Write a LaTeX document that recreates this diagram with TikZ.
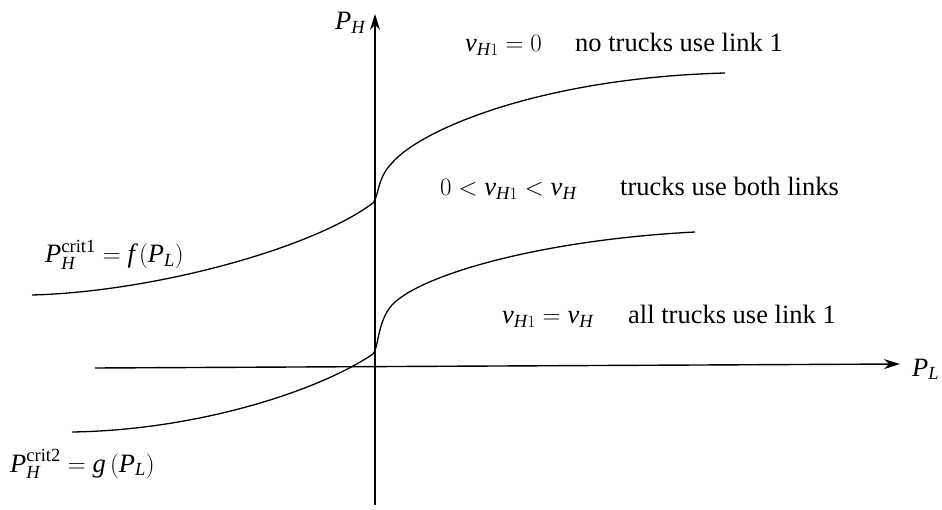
\documentclass[tikz,border=0pt]{standalone}
\usepackage{amsmath}
\usepackage{fontspec}
\setmainfont{Liberation Serif}
\usetikzlibrary{arrows.meta}
\newcommand{\mi}[1]{\textit{#1}}
\tikzset{
  axis/.style={line width=1.4pt,-{Stealth[length=16pt,width=10pt]}},
  curve/.style={line width=1.3pt},
  lab/.style={anchor=base west,inner sep=0pt,font=\fontsize{26.5}{30}\selectfont},
}
\begin{document}
\begin{tikzpicture}[x=1pt,y=-1pt]
\useasboundingbox (0,0) rectangle (942,510);
\coordinate (yb) at (375,505);
\coordinate (yt) at (375,14);
\coordinate (xl) at (95,368);
\coordinate (xr) at (900,364);
\draw[axis] (yb) -- (yt);
\draw[axis] (xl) -- (xr);
% upper curve
\coordinate (u0) at (32,295);
\coordinate (u1) at (373,203);
\coordinate (u2) at (392,163);
\coordinate (u3) at (725,73);
\draw[curve] (u0) .. controls (150,292) and (310,250) .. (u1)
  .. controls (379,196) and (377,178) .. (u2)
  .. controls (420,130) and (540,78) .. (u3);
% lower curve
\coordinate (l0) at (72,432);
\coordinate (l1) at (373,354);
\coordinate (l2) at (392,305);
\coordinate (l3) at (695,232);
\draw[curve] (l0) .. controls (200,430) and (320,390) .. (l1)
  .. controls (379,347) and (377,322) .. (l2)
  .. controls (420,275) and (540,240) .. (l3);
\node[lab] (ph) at (335,30) {$\mi{P}_{\mi{H}}$};
\node[lab] (pl) at (912,376) {$\mi{P}_{\mi{L}}$};
\node[lab] (r1) at (465,52) {$\mi{v}_{\mi{H}1}=0$};
\node[lab] (t1) at (575,52) {no trucks use link 1};
\node[lab] (r2) at (440,196) {$0<\mi{v}_{\mi{H}1}<\mi{v}_{\mi{H}}$};
\node[lab] (t2) at (620,196) {trucks use both links};
\node[lab] (r3) at (502,324) {$\mi{v}_{\mi{H}1}=\mi{v}_{\mi{H}}$};
\node[lab] (t3) at (628,324) {all trucks use link 1};
\node[lab] (f) at (45,263) {$\mi{P}_{\mi{H}}^{\mathrm{crit1}}=\mi{f}\left(\mi{P}_{\mi{L}}\right)$};
\node[lab] (g) at (10,472) {$\mi{P}_{\mi{H}}^{\mathrm{crit2}}=\mi{g}\left(\mi{P}_{\mi{L}}\right)$};
\end{tikzpicture}
\end{document}
